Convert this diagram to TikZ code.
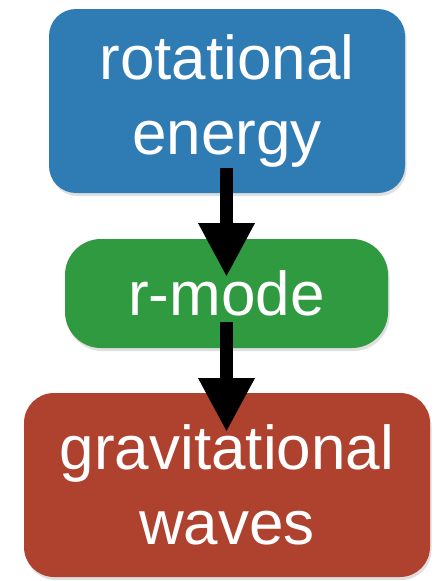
\documentclass[tikz,border=0pt]{standalone}
\usepackage{fontspec}
\setmainfont{Liberation Sans}
\usetikzlibrary{arrows.meta,shadows}
\definecolor{boxblue}{HTML}{2F7BB3}
\definecolor{boxgreen}{HTML}{2F9A40}
\definecolor{boxred}{HTML}{AE422F}
\tikzset{
  card/.style={rounded corners=#1, text=white, inner sep=0pt,
    font=\fontsize{62}{75}\selectfont, align=center,
    drop shadow={shadow xshift=1.5pt, shadow yshift=-3pt, opacity=0.25}},
  flow/.style={line width=13pt, -{Triangle[length=54pt,width=53pt]}, black}
}
\begin{document}
\begin{tikzpicture}[x=1pt,y=-1pt]
\useasboundingbox (0,0) rectangle (438,581);
\node[card=27, fill=boxblue, minimum width=356pt, minimum height=184pt] (energy) at (227,101) {rotational\\energy};
\node[card=36, fill=boxgreen, minimum width=323pt, minimum height=109pt] (mode) at (226.5,293.5) {r-mode};
\node[card=30, fill=boxred, minimum width=406pt, minimum height=184pt] (waves) at (227,485) {gravitational\\waves};
\coordinate (a1s) at (226.5,168);
\coordinate (a1e) at (226.5,277);
\coordinate (a2s) at (226.5,322);
\coordinate (a2e) at (226.5,432);
\draw[flow] (a1s) -- (a1e);
\draw[flow] (a2s) -- (a2e);
\end{tikzpicture}
\end{document}
